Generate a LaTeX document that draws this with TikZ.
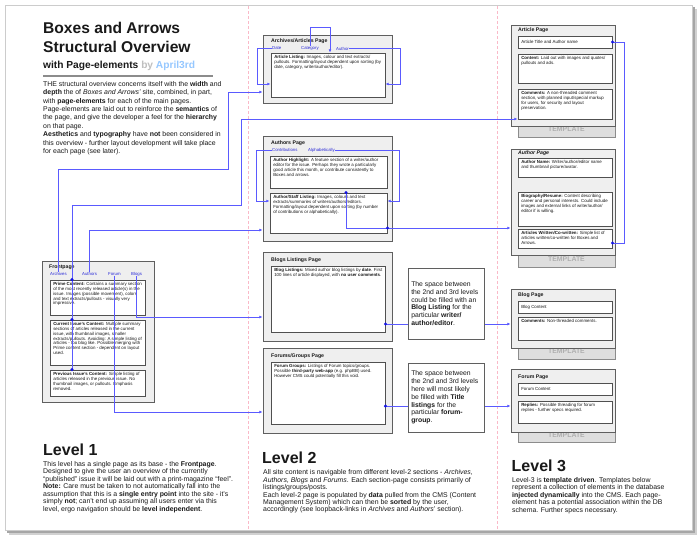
\documentclass[tikz,border=0pt]{standalone}
\usepackage{fontspec}
\setmainfont{Liberation Sans}
\usetikzlibrary{arrows.meta,fit}
\definecolor{lnk}{RGB}{90,90,255}
\definecolor{lnktxt}{RGB}{40,40,215}
\definecolor{dotc}{RGB}{20,20,225}
\definecolor{obfill}{RGB}{239,239,239}
\definecolor{obdraw}{RGB}{95,95,95}
\definecolor{ibdraw}{RGB}{80,80,80}
\definecolor{tmfill}{RGB}{222,222,222}
\definecolor{tmdraw}{RGB}{140,140,140}
\definecolor{tmtxt}{RGB}{175,175,175}
\definecolor{sepc}{RGB}{250,185,200}
\definecolor{april}{RGB}{150,200,255}
\definecolor{ink}{RGB}{25,25,25}
\newcommand\fsz[2]{\fontsize{#1}{#2}\selectfont}
\newcommand\ibx[6]{%
  \node[ibox, fit={(#2,#3) (#4,#5)}] (#1) {};
  \node[itxt] (#1t) at ([shift={(3.5,3)}]#1.north west) {#6};}
\newcommand\ibxone[6]{%
  \node[ibox, fit={(#2,#3) (#4,#5)}] (#1) {};
  \node[itxt, anchor=west] (#1t) at ([xshift=3.5pt]#1.west) {#6};}
\begin{document}
\begin{tikzpicture}[x=1pt,y=-1pt,
  obox/.style={draw=obdraw, fill=obfill, line width=0.8pt, inner sep=0pt},
  ibox/.style={draw=ibdraw, fill=white, line width=0.9pt, inner sep=0pt},
  nbox/.style={draw=obdraw, fill=white, line width=0.8pt, inner sep=0pt},
  ntxt/.style={anchor=west, inner sep=0pt, align=left, font=\fsz{6.8}{7.8}, text=ink},
  tbox/.style={draw=tmdraw, fill=tmfill, line width=0.7pt, inner sep=0pt, font=\bfseries\fsz{6.9}{7}, text=tmtxt},
  ptitle/.style={anchor=west, inner sep=0pt, font=\bfseries\fsz{5.2}{6}, text=ink},
  plink/.style={anchor=west, inner sep=0pt, font=\fsz{4.3}{5}, text=lnktxt},
  itxt/.style={anchor=north west, inner sep=0pt, align=left, font=\fsz{4.4}{4.75}, text=ink},
  bodytxt/.style={anchor=north west, inner sep=0pt, align=left, text=ink},
  heading/.style={anchor=base west, inner sep=0pt, font=\bfseries\fsz{16}{18}, text=ink},
  lnkline/.style={draw=lnk, line width=0.8pt},
  lnkarrow/.style={lnkline, -{Latex[length=3.2pt,width=2.8pt]}},
  bluedot/.style={fill=dotc}
]
\useasboundingbox (0,0) rectangle (700,538);
% page and shadow
\fill[black!18] (9,9) rectangle (697,535);
\fill[black!35] (7,7) rectangle (694.5,532.5);
\fill[white] (5,5) rectangle (692,530);
\draw[black!20, line width=0.4pt] (5,5) rectangle (692,530);
% level separators
\draw[sepc, line width=0.5pt, dash pattern=on 3pt off 2pt] (248,6) -- (248,529);
\draw[sepc, line width=0.5pt, dash pattern=on 3pt off 2pt] (497,6) -- (497,529);

% title
\node[anchor=base west, inner sep=0pt, font=\bfseries\fsz{15.6}{18}, text=ink] (t1) at (43,33) {Boxes and Arrows};
\node[anchor=base west, inner sep=0pt, font=\bfseries\fsz{15.6}{18}, text=ink] (t2) at (43,52) {Structural Overview};
\node[anchor=base west, inner sep=0pt, font=\bfseries\fsz{10.2}{12}, text=ink] (t3) at (43,68) {with Page-elements \textcolor{black!25}{by} \textcolor{april}{April3rd}};
\draw[black!45, line width=1.3pt] (43,76) -- (213,76);
\node[bodytxt, font=\fsz{6.9}{8.4}] (intro) at (43,81) {THE structural overview concerns itself with the \textbf{width} and\\
\textbf{depth} the of \textit{Boxes and Arrows'} site, combined, in part,\\
with \textbf{page-elements} for each of the main pages.\\
Page-elements are laid out to reinforce the \textbf{semantics} of\\
the page, and give the developer a feel for the \textbf{hierarchy}\\
on that page.\\
\textbf{Aesthetics} and \textbf{typography} have \textbf{not} been considered in\\
this overview - further layout development will take place\\
for each page (see later).};

% level texts
\node[heading] (L1h) at (43,455) {Level 1};
\node[bodytxt, font=\fsz{6.9}{7.55}] (L1b) at (43,461) {This level has a single page as its base - the \textbf{Frontpage}.\\
Designed to give the user an overview of the currently\\
“published” issue it will be laid out with a print-magazine “feel”.\\
\textbf{Note:} Care must be taken to not automatically fall into the\\
assumption that this is a \textbf{single entry point} into the site - it's\\
simply \textbf{not}; can't end up assuming all users enter via this\\
level, ergo navigation should be \textbf{level independent}.};
\node[heading] (L2h) at (262,463) {Level 2};
\node[bodytxt, font=\fsz{6.9}{7.45}] (L2b) at (263,469.5) {All site content is navigable from different level-2 sections - \textit{Archives,}\\
\textit{Authors}, \textit{Blogs} and \textit{Forums}. Each section-page consists primarily of\\
listings/groups/posts.\\
Each level-2 page is populated by \textbf{data} pulled from the CMS (Content\\
Management System) which can then be \textbf{sorted} by the user,\\
accordingly (see loopback-links in \textit{Archives} and \textit{Authors}' section).};
\node[heading] (L3h) at (511.5,471) {Level 3};
\node[bodytxt, font=\fsz{6.9}{7.5}] (L3b) at (512,477) {Level-3 is \textbf{template driven}. Templates below\\
represent a collection of elements in the database\\
\textbf{injected dynamically} into the CMS. Each page-\\
element has a potential association within the DB\\
schema. Further specs necessary.};

% ---------- Level 1: Frontpage ----------
\node[obox, fit={(42,261) (154,402)}] (fp) {};
\node[ptitle] (fpt) at (49,267) {Frontpage};
\node[plink] (fpA) at (50,274) {Archives};
\node[plink] (fpU) at (82,274) {Authors};
\node[plink] (fpF) at (108,274) {Forum};
\node[plink] (fpB) at (131,274) {Blogs};
\ibx{fp1}{50}{280}{145}{315}{\textbf{Prime Content:} Contains a summary section\\of the most recently released article(s) in the\\issue. Images (possible movement), colors\\and text extracts/pullouts - visually very\\impressive.}
\ibx{fp2}{50}{320}{145}{365}{\textbf{Current Issue's Content:} Multiple summary\\sections of articles released in the current\\issue, with thumbnail images, smaller\\extracts/pullouts. Avoiding: A simple listing of\\articles - too blog like. Possible merging with\\Prime content section - dependent on layout\\used.}
\ibx{fp3}{50}{370}{145}{396}{\textbf{Previous Issue's Content:} Simple listing of\\articles released in the previous issue. No\\thumbnail images, or pullouts. Emphasis\\removed.}

% ---------- Level 2 ----------
\node[obox, fit={(263,35) (392,103)}] (arch) {};
\node[ptitle] (archt) at (271,41) {Archives/Articles Page};
\node[plink] (archD) at (272,48.5) {Date};
\node[plink] (archC) at (301,48.5) {Category};
\node[plink] (archU) at (336,48.5) {Author};
\ibx{arch1}{271}{53}{385}{97}{\textbf{Article Listing:} Images, colour and text extracts/\\pullouts. Formatting/layout dependent upon sorting (by\\date, category, writer/author/editor).}

\node[obox, fit={(263,136) (392,241)}] (auth) {};
\node[ptitle] (autht) at (271,143) {Authors Page};
\node[plink] (authC) at (272,150) {Contributions};
\node[plink] (authA) at (308,150) {Alphabetically};
\ibx{auth1}{270}{156}{387}{188}{\textbf{Author Highlight:} A feature section of a writer/author\\editor for the issue. Perhaps they wrote a particularly\\good article this month, or contribute consistently to\\Boxes and arrows.}
\ibx{auth2}{270}{193}{387}{233}{\textbf{Author/Staff Listing:} Images, colours and text\\extracts/summaries of writers/authors/editors.\\Formatting/layout dependent upon sorting (by number\\of contributions or alphabetically).}

\node[obox, fit={(263,252) (392,341)}] (blg) {};
\node[ptitle] (blgt) at (271,260) {Blogs Listings Page};
\ibx{blg1}{271}{266}{385}{332}{\textbf{Blog Listings:} Mixed author blog listings by \textbf{date}. First\\100 lines of article displayed, with \textbf{no user comments}.}

\node[obox, fit={(263,348) (392,433)}] (for) {};
\node[ptitle] (fort) at (271,356) {Forums/Groups Page};
\ibx{for1}{271}{362}{385}{424}{\textbf{Forum Groups:} Listings of Forum topics/groups.\\Possible \textbf{third-party web-app} (e.g. phpBB) used.\\However CMS could potentially fill this void.}

% ---------- Level 3 ----------
\node[tbox, fit={(518,126) (615,137)}] (artT) {TEMPLATE};
\node[obox, fit={(511,25) (615,126)}] (art) {};
\node[ptitle] (artt) at (518,30.5) {Article Page};
\ibxone{art1}{518}{36}{612}{48}{Article Title and Author name}
\ibx{art2}{518}{54}{612}{83}{\textbf{Content:} Laid out with images and quotes/\\pullouts and ads.}
\ibx{art3}{518}{89}{612}{119}{\textbf{Comments:} A non-threaded comment\\section, with planned input/special markup\\for users, for security and layout\\preservation.}

\node[tbox, fit={(518,255) (615,267)}] (aupT) {TEMPLATE};
\node[obox, fit={(511,149) (615,255)}] (aup) {};
\node[ptitle, font=\bfseries\itshape\fsz{5.2}{6}] (aupt) at (518,153.5) {Author Page};
\ibx{aup1}{518}{158}{612}{177}{\textbf{Author Name:} Writer/author/editor name\\and thumbnail picture/avatar.}
\ibx{aup2}{518}{192}{612}{226}{\textbf{Biography/Resume:} Content describing\\career and personal interests. Could include\\images and external links of writer/author/\\editor if is willing.}
\ibx{aup3}{518}{229}{612}{248}{\textbf{Articles Written/Co-written:} Simple list of\\articles written/co-written for Boxes and\\Arrows.}

\node[tbox, fit={(518,348) (615,359)}] (blpT) {TEMPLATE};
\node[obox, fit={(511,289) (615,348)}] (blp) {};
\node[ptitle] (blpt) at (518,295.5) {Blog Page};
\ibxone{blp1}{518}{301}{612}{313}{Blog Content}
\ibx{blp2}{518}{317}{612}{340}{\textbf{Comments:} Non-threaded comments.}

\node[tbox, fit={(518,432) (615,442)}] (forpT) {TEMPLATE};
\node[obox, fit={(511,369) (615,432)}] (forp) {};
\node[ptitle] (forpt) at (518,377) {Forum Page};
\ibxone{forp1}{518}{383}{612}{395}{Forum Content}
\ibx{forp2}{518}{401}{612}{423}{\textbf{Replies:} Possible threading for forum\\replies - further specs required.}

% ---------- connectors ----------
\draw[lnkarrow] (fpA.north) |- (228,169) |- (arch.west |- 0,92);
\draw[lnkarrow] (fp3.north -| 72,0) -- (72,205) -| (241,119) -- (art3.west |- 0,119);
\draw[lnkarrow] (fpU.north) |- (auth.west |- 0,230);
\draw[lnkarrow] (fpB.south) |- (blg.west |- 0,317);
\draw[lnkarrow] (fpF.south) |- (for.west |- 0,412);

\draw[lnkarrow] (archD.west) -| (257,84) -- (arch1.west |- 0,84);
\draw[lnkarrow] (archC.north) |- (330,27) -- (arch1.north -| 330,0);
\draw[lnkarrow] (archU.east) -| (400,84) -- (arch1.east |- 0,84);

\draw[lnkarrow] (authC.west) -| (256,201) -- (auth2.west |- 0,201);
\draw[lnkarrow] (authA.east) -| (399,201) -- (auth2.east |- 0,201);
\draw[lnkarrow] (auth2.north -| 346,0) |- (aup.west |- 0,228);

\draw[lnkarrow] (blg1.east |- 0,324) -- (blp.west |- 0,324);
\draw[lnkarrow] (for1.east |- 0,406) -- (forp.west |- 0,406);

\draw[lnkline] (art1.east) -| (624,243) -- (aup3.east |- 0,243);

% ---------- note boxes ----------
\node[nbox, fit={(408,268) (484,339)}] (nb) {};
\node[ntxt] (nbt) at ([xshift=3.5pt]nb.west) {The space between\\the 2nd and 3rd levels\\could be filled with an\\\textbf{Blog Listing} for the\\particular \textbf{writer/}\\\textbf{author/editor}.};
\node[nbox, fit={(408,363) (484,432)}] (nf) {};
\node[ntxt] (nft) at ([xshift=3.5pt]nf.west) {The space between\\the 2nd and 3rd levels\\here will most likely\\be filled with \textbf{Title}\\\textbf{listings} for the\\particular \textbf{forum-}\\\textbf{group}.};

% ---------- dots ----------
\fill[bluedot] (fp1.north -| 72,0) circle (1.7pt);
\fill[bluedot] (fp2.north -| 72,0) circle (1.7pt);
\fill[bluedot] (fp3.north -| 72,0) circle (1.7pt);
\fill[bluedot] (auth2.north -| 346,0) circle (1.7pt);
\fill[bluedot] (auth2.east |- 0,228) circle (1.7pt);
\fill[bluedot] (blg1.east |- 0,324) circle (1.7pt);
\fill[bluedot] (for1.east |- 0,406) circle (1.7pt);
\fill[bluedot] (art1.east) circle (1.7pt);
\fill[bluedot] (aup3.east |- 0,243) circle (1.7pt);
\end{tikzpicture}
\end{document}
